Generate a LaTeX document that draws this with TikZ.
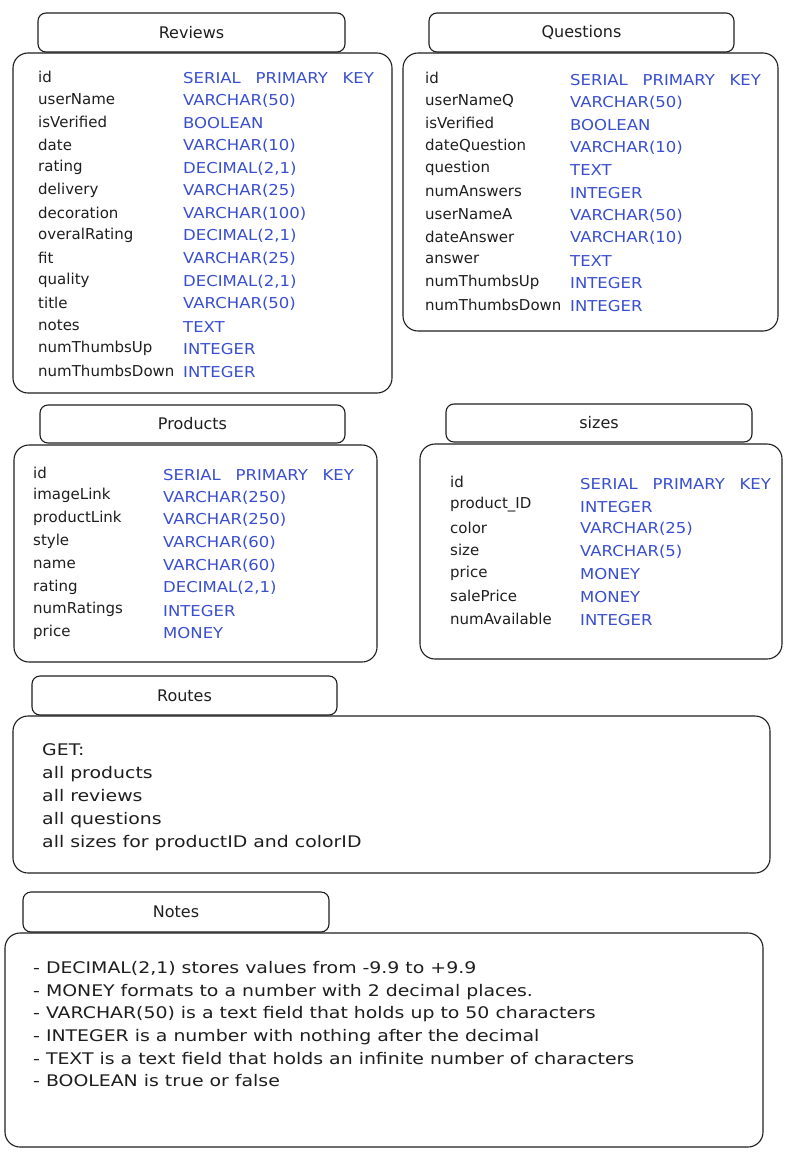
\documentclass[tikz,border=0pt]{standalone}
\usepackage{fontspec}
\setmainfont{DejaVu Sans}
\newfontfamily\sqlfont[WordSpace=2.8, FakeStretch=1.1]{DejaVu Sans}
\newfontfamily\memofont[FakeStretch=1.18]{DejaVu Sans}
\usetikzlibrary{positioning}
\definecolor{ink}{HTML}{1E1E1E}
\definecolor{sqlblue}{HTML}{3A4FD0}

\begin{document}
\begin{tikzpicture}[
  x=1pt, y=-1pt,
  tabhead/.style={
    draw=ink, rounded corners=8pt, line width=1.1pt, anchor=north west,
    inner sep=0pt, outer sep=0pt, minimum height=39pt,
    font=\fontsize{16}{19}\selectfont, text=ink
  },
  tabbody/.style={
    draw=ink, rounded corners=15pt, line width=1.1pt, anchor=north west,
    inner sep=0pt, outer sep=0pt
  },
  field/.style={anchor=west, inner sep=0pt, text=ink, font=\fontsize{15}{18}\selectfont},
  sqltype/.style={anchor=west, inner sep=0pt, text=sqlblue, font=\sqlfont\fontsize{15}{18}\selectfont},
  memo/.style={anchor=north west, inner sep=0pt, align=left, text=ink},
]
\useasboundingbox (0,0) rectangle (790,1161);

% table frames
\node[tabhead, minimum width=307pt] (revhead) at (38,13) {Reviews};
\node[tabbody, minimum width=379pt, minimum height=340pt] (revbody) at (13,53) {};
\node[tabhead, minimum width=305pt] (queshead) at (429,13) {Questions};
\node[tabbody, minimum width=375pt, minimum height=278pt] (quesbody) at (403,53) {};
\node[tabhead, minimum width=305pt, minimum height=38pt] (prodhead) at (40,405) {Products};
\node[tabbody, minimum width=363pt, minimum height=217pt] (prodbody) at (14,445) {};
\node[tabhead, minimum width=306pt, minimum height=38pt] (sizehead) at (446,404) {sizes};
\node[tabbody, minimum width=362pt, minimum height=215pt] (sizebody) at (420,444) {};
\node[tabhead, minimum width=305pt] (routehead) at (32,676) {Routes};
\node[tabbody, minimum width=757pt, minimum height=157pt] (routebody) at (13,716) {};
\node[tabhead, minimum width=306pt, minimum height=40pt] (notehead) at (23,892) {Notes};
\node[tabbody, minimum width=758pt, minimum height=214pt] (notebody) at (5,933) {};

% Reviews
\foreach \fld/\dtype [count=\i from 0] in {id/SERIAL PRIMARY KEY, userName/VARCHAR(50),
    isVerified/BOOLEAN, date/VARCHAR(10), rating/{DECIMAL(2,1)}, delivery/VARCHAR(25),
    decoration/VARCHAR(100), overalRating/{DECIMAL(2,1)}, fit/VARCHAR(25),
    quality/{DECIMAL(2,1)}, title/VARCHAR(50), notes/TEXT, numThumbsUp/INTEGER,
    numThumbsDown/INTEGER} {
  \node[field] (rev-f\i) at (38,{77+22.6*\i}) {\fld};
  \node[sqltype] (rev-t\i) at (183,{78+22.6*\i}) {\dtype};
}

% Questions
\foreach \fld/\dtype [count=\i from 0] in {id/SERIAL PRIMARY KEY, userNameQ/VARCHAR(50),
    isVerified/BOOLEAN, dateQuestion/VARCHAR(10), question/TEXT, numAnswers/INTEGER,
    userNameA/VARCHAR(50), dateAnswer/VARCHAR(10), answer/TEXT, numThumbsUp/INTEGER,
    numThumbsDown/INTEGER} {
  \node[field] (ques-f\i) at (425,{78+22.7*\i}) {\fld};
  \node[sqltype] (ques-t\i) at (570,{80+22.6*\i}) {\dtype};
}

% Products
\foreach \fld/\dtype [count=\i from 0] in {id/SERIAL PRIMARY KEY, imageLink/VARCHAR(250),
    productLink/VARCHAR(250), style/VARCHAR(60), name/VARCHAR(60),
    rating/{DECIMAL(2,1)}, numRatings/INTEGER, price/MONEY} {
  \node[field] (prod-f\i) at (33,{473+22.8*\i}) {\fld};
  \node[sqltype] (prod-t\i) at (163,{475+22.6*\i}) {\dtype};
}

% sizes
\foreach \fld/\dtype [count=\i from 0] in {id/SERIAL PRIMARY KEY, product\_ID/INTEGER,
    color/VARCHAR(25), size/VARCHAR(5), price/MONEY, salePrice/MONEY,
    numAvailable/INTEGER} {
  \node[field] (size-f\i) at (450,{482+22.8*\i}) {\fld};
  \node[sqltype] (size-t\i) at (580,{484+22.6*\i}) {\dtype};
}

% Routes and Notes
\node[memo, font=\memofont\fontsize{16}{23}\selectfont] (routelist) at (42,743) {GET:\\
  all products\\
  all reviews\\
  all questions\\
  all sizes for productID and colorID};
\node[memo, font=\memofont\fontsize{16}{22.7}\selectfont] (notelist) at (33,961) {%
  - DECIMAL(2,1) stores values from -9.9 to +9.9\\
  - MONEY formats to a number with 2 decimal places.\\
  - VARCHAR(50) is a text field that holds up to 50 characters\\
  - INTEGER is a number with nothing after the decimal\\
  - TEXT is a text field that holds an infinite number of characters\\
  - BOOLEAN is true or false};

\end{tikzpicture}
\end{document}
